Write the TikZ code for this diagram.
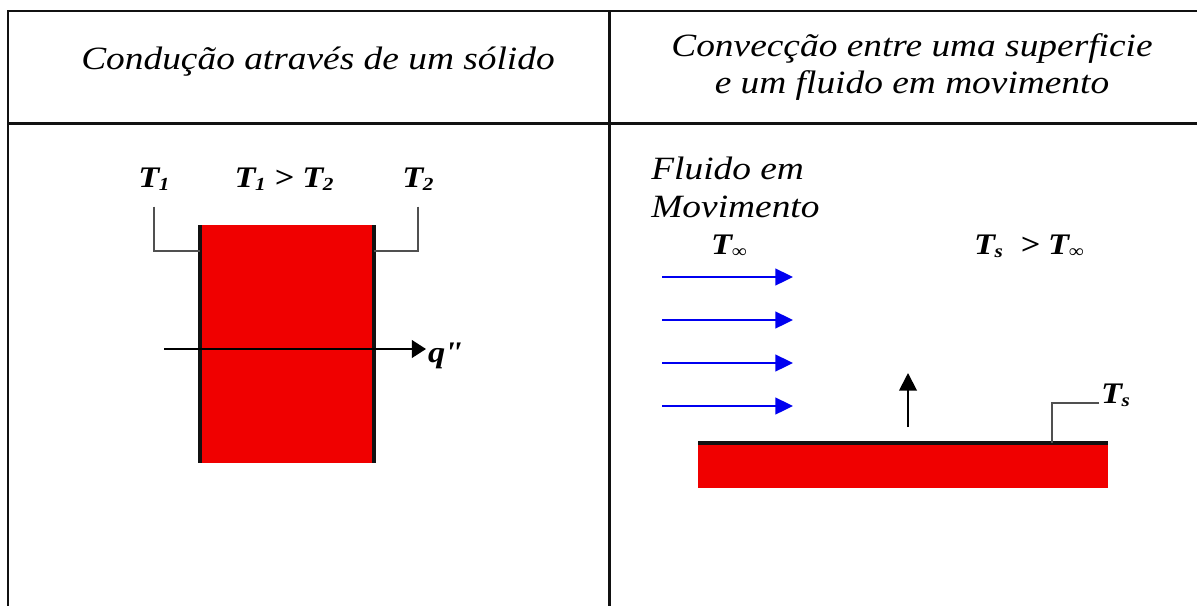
\documentclass[tikz,border=0pt]{standalone}
\usepackage{fontspec}
\setmainfont{Liberation Serif}
\newfontfamily\wideserif[FakeStretch=1.15]{Liberation Serif}
\usepackage{tikz}
\usetikzlibrary{arrows.meta,positioning,calc}
\definecolor{HTRed}  {HTML}{F00000}
\definecolor{HTBlue} {HTML}{0000F0}
\definecolor{HTGray} {HTML}{505050}
\definecolor{HTBlack}{HTML}{111111}
% temperature symbol with a lowered subscript
\newcommand{\Tsub}[1]{T\kern-0.3pt\raisebox{-2pt}{\fontsize{10.5}{11}\selectfont #1}}
\tikzset{
  frameline/.style={line width=1.7pt,color=HTBlack},
  leader/.style={line width=0.6pt,color=HTGray},
  edge/.style={line width=2.4pt,color=HTBlack},
  fluxarr/.style={-{Triangle[length=8pt,width=10pt]},line width=1.1pt,color=black},
  flowarr/.style={-{Triangle[length=10pt,width=9.5pt]},line width=1.1pt,color=HTBlue},
  heading/.style={font=\wideserif\itshape\fontsize{18.5}{21.5}\selectfont,inner sep=0pt},
  bodytxt/.style={font=\wideserif\itshape\fontsize{18.5}{21.5}\selectfont,inner sep=0pt},
  templbl/.style={font=\wideserif\bfseries\itshape\fontsize{17}{18}\selectfont,inner sep=1pt},
  hotbody/.style={fill=HTRed,draw=none,inner sep=0pt,outer sep=0pt}
}

\begin{document}
\begin{tikzpicture}[x=0.02cm,y=-0.02cm]
    \useasboundingbox[fill=white] (0,0) rectangle (1197,606);
    % table frame
    \draw[frameline] (8,11) -- (1197,11);
    \draw[frameline] (8,123) -- (1197,123);
    \draw[frameline] (8,10) -- (8,606);
    \draw[frameline] (609,10) -- (609,606);
    % headings
    \node[heading,anchor=base] (hdcond) at (318,69) {Condução através de um sólido};
    \node[heading,align=center] (hdconv) at (912,67)
      {Convecção entre uma superficie\\ e um fluido em movimento};

    % conduction: plane wall
    \node[hotbody,minimum width=3.48cm,minimum height=4.76cm] (wall) at (287,344) {};
    \draw[edge] (wall.north west) -- (wall.south west);
    \draw[edge] (wall.north east) -- (wall.south east);
    \node[templbl,anchor=base] (t1) at (154,187) {\Tsub{1}};
    \node[templbl,anchor=base] (tcmp) at (284,187) {\Tsub{1} > \Tsub{2}};
    \node[templbl,anchor=base] (t2) at (418,187) {\Tsub{2}};
    \coordinate (k1) at (200,251);
    \coordinate (k2) at (374,251);
    \draw[leader,shorten <=8pt] (t1.south) |- (k1);
    \draw[leader,shorten <=8pt] (t2.south) |- (k2);
    % heat flux
    \coordinate (qin) at (164,349);
    \node[templbl,anchor=base west] (qflux) at (426,362) {q'\kern-1.5pt'};
    \draw[fluxarr] (qin) -- (qin -| qflux.west);

    % convection: moving fluid over a hot plate
    \node[bodytxt,align=left,anchor=base west] (fluid) at (651,217) {Fluido em\\Movimento};
    \node[templbl,anchor=base west] (tinf) at (709,254) {\Tsub{∞}};
    \node[templbl,anchor=base west] (tcmpR) at (972,254) {\Tsub{s}\ \ >\ \Tsub{∞}};
    \foreach \yy in {277,320,363,406}
      \draw[flowarr] (662,\yy) -- (793,\yy);
    \node[hotbody,minimum width=8.2cm,minimum height=0.9cm] (plate) at (903,465.5) {};
    \draw[edge,line width=2.8pt] (plate.north west) -- (plate.north east);
    \coordinate (up0) at (908,427);
    \coordinate (up1) at (908,373);
    \draw[fluxarr,-{Triangle[length=10pt,width=10pt]}] (up0) -- (up1);
    % surface temperature
    \node[templbl,anchor=base west] (ts) at (1099,403) {\Tsub{s}};
    \coordinate (ks) at (1052,443);
    \draw[leader] (ts.west |- 0,403) -- (1052,403) -- (ks);
  \end{tikzpicture}
\end{document}
